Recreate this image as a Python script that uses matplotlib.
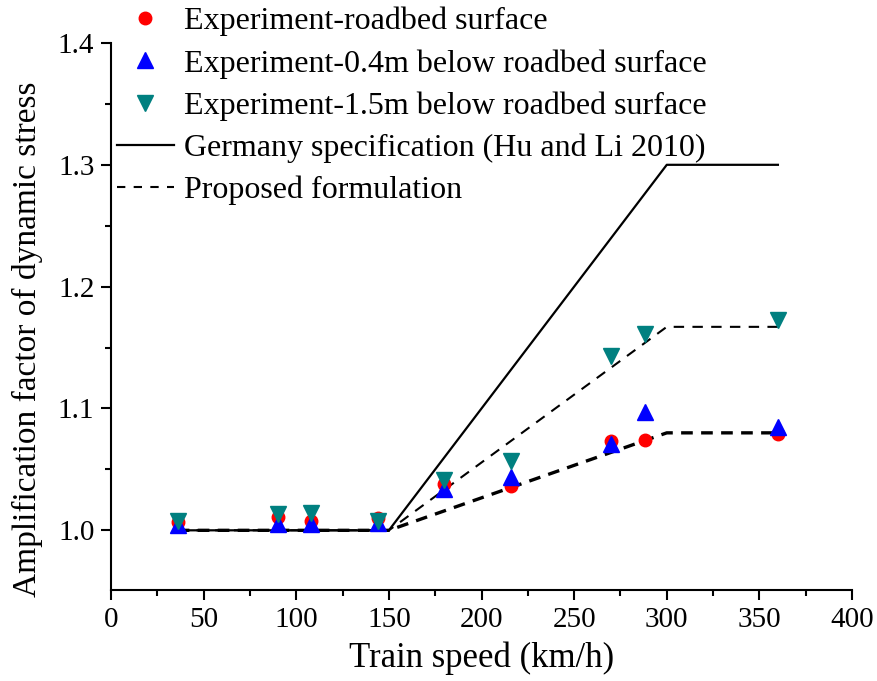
import numpy as np
import matplotlib.pyplot as plt
from matplotlib.ticker import MultipleLocator

plt.rcParams['font.family'] = ['Liberation Serif', 'DejaVu Serif']

# measured points
speed = [36, 90, 108, 144, 180, 216, 270, 288, 360]
surf = [1.007, 1.011, 1.008, 1.010, 1.038, 1.036, 1.073, 1.074, 1.079]
d04 = [1.004, 1.005, 1.005, 1.006, 1.034, 1.044, 1.071, 1.097, 1.085]
d15 = [1.008, 1.013, 1.014, 1.008, 1.041, 1.057, 1.143, 1.161, 1.173]

# Germany specification
ger_v = [36, 150, 180, 300, 360]
ger_f = [1.0, 1.0, 1.06, 1.3, 1.3]

# proposed formulation
prop_v = [36, 150, 300, 360]
prop_low = [1.0, 1.0, 1.08, 1.08]
prop_high = [1.0, 1.0, 1.167, 1.167]

fig = plt.figure(figsize=(8.77, 6.81), dpi=100)
ax = fig.add_axes([0.1266, 0.1336, 0.8449, 0.8033])

l1, = ax.plot(ger_v, ger_f, 'k-', lw=1.6, label='Germany specification (Hu and Li 2010)')
ax.plot(prop_v, prop_low, 'k--', lw=2.4, dashes=(3.5, 2.5))
ax.plot(prop_v, prop_high, 'k--', lw=1.5, dashes=(5, 4))
l2, = ax.plot([], [], 'k--', lw=1.5, dashes=(4, 4), label='Proposed formulation')

p1, = ax.plot(speed, surf, 'o', color='#ff0000', ms=9, ls='none', label='Experiment-roadbed surface')
p2, = ax.plot(speed, d04, '^', color='#0000ff', ms=11, ls='none', label='Experiment-0.4m below roadbed surface')
p3, = ax.plot(speed, d15, 'v', color='#008080', ms=11, ls='none', label='Experiment-1.5m below roadbed surface')

ax.set_xlim(0, 400)
ax.set_ylim(0.951, 1.4)
ax.xaxis.set_major_locator(MultipleLocator(50))
ax.xaxis.set_minor_locator(MultipleLocator(25))
ax.yaxis.set_minor_locator(MultipleLocator(0.05))
ax.set_yticks([1.0, 1.1, 1.2, 1.3, 1.4])
ax.tick_params(which='major', direction='out', length=7, width=1.5, labelsize=21, pad=5)
ax.tick_params(which='minor', direction='out', length=4, width=1.5)
for s in ['top', 'right']:
    ax.spines[s].set_visible(False)
for s in ['left', 'bottom']:
    ax.spines[s].set_linewidth(1.5)

ax.set_xlabel('Train speed (km/h)', fontsize=25, labelpad=6)
ax.set_ylabel('Amplification factor of dynamic stress', fontsize=24)
ax.yaxis.set_label_coords(-0.092, 0.459)

leg = fig.legend(handles=[p1, p2, p3, l1, l2], loc='upper left',
                 bbox_to_anchor=(0.133, 0.99), frameon=False, fontsize=23,
                 handlelength=1.8, handletextpad=0.3, labelspacing=0.4,
                 borderpad=0.0, borderaxespad=0.0)

fig.savefig('out.png', dpi=100)
